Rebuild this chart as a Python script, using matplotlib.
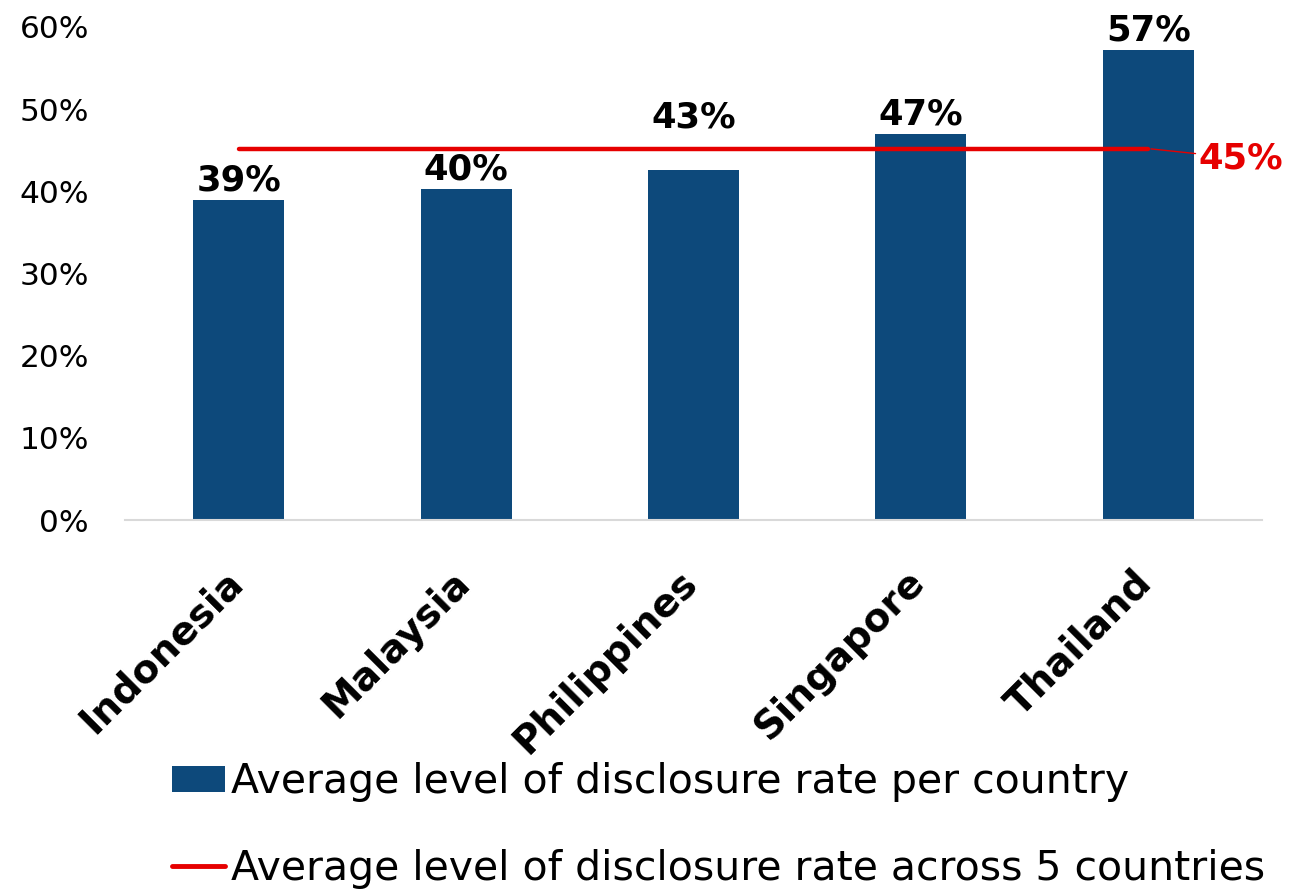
import matplotlib
matplotlib.use("Agg")
import matplotlib.pyplot as plt
from matplotlib.patches import Patch
from matplotlib.lines import Line2D

countries = ["Indonesia", "Malaysia", "Philippines", "Singapore", "Thailand"]
disclosure_rate = [0.389, 0.403, 0.426, 0.470, 0.572]
average_rate = [0.452, 0.452, 0.452, 0.452, 0.452]
y_ticks = [0.0, 0.1, 0.2, 0.3, 0.4, 0.5, 0.6]
y_tick_labels = ["0%", "10%", "20%", "30%", "40%", "50%", "60%"]
bar_label = "Average level of disclosure rate per country"
line_label = "Average level of disclosure rate across 5 countries"

BAR_COLOR = "#0D497B"
RED = "#E60000"
plt.rcParams["font.family"] = ["DejaVu Sans"]

fig = plt.figure(figsize=(13.11, 8.94), dpi=100)
ax = fig.add_axes([125 / 1311, 1 - 520 / 894, (1262 - 125) / 1311, 493 / 894])

x = list(range(len(countries)))
ax.bar(x, disclosure_rate, width=0.4, color=BAR_COLOR, zorder=2)
ax.plot(x, average_rate, color=RED, lw=3.2, solid_capstyle="round", zorder=3)

ax.set_xlim(-0.5, len(countries) - 0.5)
ax.set_ylim(0, 0.6)
ax.set_yticks(y_ticks)
ax.set_yticklabels(y_tick_labels, fontsize=22.5, color="black")
ax.tick_params(axis="y", length=0, pad=26)
ax.tick_params(axis="x", length=0, labelbottom=False)
for s in ["top", "right", "left"]:
    ax.spines[s].set_visible(False)
ax.spines["bottom"].set_color("#D9D9D9")
ax.spines["bottom"].set_linewidth(1.5)

# value labels
for i, v in enumerate(disclosure_rate):
    avg = average_rate[i]
    txt = f"{round(v * 100):.0f}%"
    if 0 < avg - v < 0.03:
        ax.annotate(txt, xy=(i, avg), xytext=(0, 10), textcoords="offset points",
                    ha="center", va="bottom", fontsize=25.5, fontweight="bold", zorder=4)
    else:
        ax.annotate(txt, xy=(i, v), xytext=(0, 2), textcoords="offset points",
                    ha="center", va="bottom", fontsize=25.5, fontweight="bold", zorder=4)

# average label with leader line
ax.annotate(f"{round(average_rate[-1] * 100):.0f}%", xy=(x[-1], average_rate[-1]),
            xytext=(36, -7), textcoords="offset points", ha="left", va="center",
            fontsize=25.5, fontweight="bold", color=RED,
            arrowprops=dict(arrowstyle="-", color=RED, lw=1.0, shrinkA=0, shrinkB=2))

# category labels
for i, name in enumerate(countries):
    ax.text(i + 0.05, -0.087, name, transform=ax.get_xaxis_transform(),
            rotation=45, ha="right", va="top", fontsize=28, fontweight="bold")

handles = [Patch(facecolor=BAR_COLOR, edgecolor="none"),
           Line2D([0], [0], color=RED, lw=3.5, solid_capstyle="round")]
fig.legend(handles, [bar_label, line_label], loc="upper left",
           bbox_to_anchor=(172 / 1311, 1 - 762 / 894), frameon=False,
           fontsize=29.5, handlelength=1.3, handleheight=0.6, handletextpad=0.15,
           labelspacing=1.15, borderpad=0, borderaxespad=0)

fig.savefig("out.png", dpi=100)
